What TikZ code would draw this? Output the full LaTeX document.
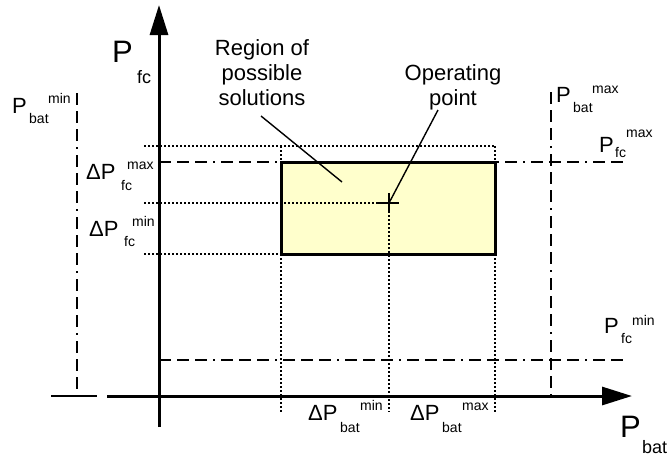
\documentclass[tikz,border=0pt]{standalone}
\usepackage{fontspec}
\setmainfont{Liberation Sans}
\usetikzlibrary{arrows.meta}
\begin{document}
\begin{tikzpicture}[x=1pt,y=-1pt,
  txt/.style={inner sep=0pt, anchor=base west, font=\fontsize{22}{25}\selectfont},
  ctxt/.style={inner sep=0pt, anchor=base, font=\fontsize{22}{25}\selectfont},
  sub/.style={inner sep=0pt, anchor=base west, font=\fontsize{14}{16}\selectfont},
  big/.style={inner sep=0pt, anchor=base west, font=\fontsize{31}{36}\selectfont},
  bigsub/.style={inner sep=0pt, anchor=base west, font=\fontsize{18}{20}\selectfont},
  axisline/.style={line width=3pt, -{Triangle[length=30pt,width=18pt]}},
  dd/.style={line width=2pt, dash pattern=on 12pt off 6pt on 12pt off 6pt on 12pt off 6pt on 2pt off 6pt},
  dots/.style={line width=1.8pt, dash pattern=on 1.6pt off 2.4pt},
  leader/.style={line width=1.4pt},
  region/.style={fill={rgb,255:red,255;green,255;blue,204}},
  border/.style={line width=3pt},
]
\useasboundingbox (0,0) rectangle (669,456);

% key coordinates
\coordinate (O) at (159,396);
\coordinate (xs) at (107,396);
\coordinate (xe) at (632,396);
\coordinate (ys) at (159,427);
\coordinate (ye) at (159,5);
\coordinate (r1) at (281,162);
\coordinate (r2) at (495,254);
\coordinate (op) at (389,203);

% region fill
\fill[region] (r1) rectangle (r2);

% dotted guide lines
\draw[dots] (144,146) -- (495,146);
\draw[dots] (144,254) -- (281,254);
\draw[dots] (144,203) -- (op);
\draw[dots] (281,146) -- (281,412);
\draw[dots] (op) -- (389,412);
\draw[dots] (495,146) -- (495,412);

% dash-dot limit lines
\draw[dd] (159,162) -- (628,162);
\draw[dd] (159,360) -- (628,360);
\draw[dd] (77,93) -- (77,396);
\draw[dd] (551,92) -- (551,396);
\draw[line width=2.4pt] (51,396) -- (97,396);

% region border
\draw[border] (r1) rectangle (r2);

% operating point cross
\draw[line width=1.8pt] (378,203) -- (399,203);
\draw[line width=1.8pt] (389,193) -- (389,213);

% axes
\draw[axisline] (xs) -- (xe);
\draw[axisline] (ys) -- (ye);

% axis labels
\node[big] (pfcP) at (112,62) {P};
\node[bigsub] (pfcS) at (137,83) {fc};
\node[big] (pbatP) at (620,437) {P};
\node[bigsub] (pbatS) at (642,453) {bat};

% P_bat^min
\node[txt] (pbminP) at (12,113) {P};
\node[sub] (pbminS) at (29,123) {bat};
\node[sub] (pbminU) at (48,103) {min};

% Delta P_fc^max
\node[txt] (dfmaxP) at (86,179) {ΔP};
\node[sub] (dfmaxS) at (121,190) {fc};
\node[sub] (dfmaxU) at (127,169) {max};

% Delta P_fc^min
\node[txt] (dfminP) at (89,236) {ΔP};
\node[sub] (dfminS) at (124,246) {fc};
\node[sub] (dfminU) at (132,226) {min};

% P_bat^max
\node[txt] (pbmaxP) at (556,102) {P};
\node[sub] (pbmaxS) at (573,112) {bat};
\node[sub] (pbmaxU) at (592,93) {max};

% P_fc^max
\node[txt] (pfmaxP) at (599,152) {P};
\node[sub] (pfmaxS) at (615,157) {fc};
\node[sub] (pfmaxU) at (626,137) {max};

% P_fc^min
\node[txt] (pfminP) at (604,333) {P};
\node[sub] (pfminS) at (621,343) {fc};
\node[sub] (pfminU) at (632,325) {min};

% Delta P_bat^min
\node[txt] (dbminP) at (308,420) {ΔP};
\node[sub] (dbminS) at (340,432) {bat};
\node[sub] (dbminU) at (360,410) {min};

% Delta P_bat^max
\node[txt] (dbmaxP) at (410,420) {ΔP};
\node[sub] (dbmaxS) at (442,432) {bat};
\node[sub] (dbmaxU) at (462,410) {max};

% Region text
\node[ctxt] (reg1) at (262,55) {Region of};
\node[ctxt] (reg2) at (262,80) {possible};
\node[ctxt] (reg3) at (262,105) {solutions};
\coordinate (regfrom) at (261,116);
\coordinate (regto) at (342,182);
\draw[leader] (regfrom) -- (regto);

% Operating point text
\node[ctxt] (opr1) at (453,80) {Operating};
\node[ctxt] (opr2) at (453,105) {point};
\coordinate (opfrom) at (438,110);
\draw[leader] (opfrom) -- (op);
\end{tikzpicture}
\end{document}
